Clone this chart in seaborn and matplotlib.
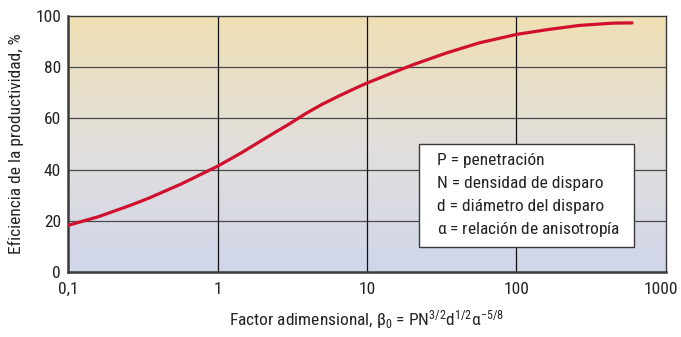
import matplotlib
matplotlib.use('Agg')
import matplotlib.pyplot as plt
import matplotlib.transforms as mtransforms
from matplotlib.patches import Rectangle
from matplotlib.colors import LinearSegmentedColormap
import seaborn as sns
import pandas as pd
import numpy as np

# datos
factor = [0.1, 0.16, 0.266, 0.346, 0.573, 1, 1.44, 2.42, 2.98, 3.87, 5.01, 6.52, 8.45, 10,
          14.1, 20.2, 33.8, 56.4, 100, 158, 263, 442, 593]
eficiencia = [18.2, 21.6, 26.2, 28.8, 34.4, 41.3, 46.5, 54.5, 57.6, 61.8, 65.5, 68.8, 71.9, 73.8,
              77.3, 80.9, 85.5, 89.5, 92.8, 94.6, 96.3, 97.2, 97.3]
yticks = [0, 20, 40, 60, 80, 100]
xticks = [0.1, 1, 10, 100, 1000]
xticklabels = ['0,1', '1', '10', '100', '1000']
leyenda = ['P = penetración', 'N = densidad de disparo',
           'd = diámetro del disparo', r'$\alpha$ = relación de anisotropía']

sns.set_theme(style='white')
fnt = ['Roboto Condensed', 'Archivo Narrow', 'DejaVu Sans']
plt.rcParams['font.family'] = fnt
plt.rcParams.update({'mathtext.fontset': 'custom',
                     'mathtext.rm': 'Roboto Condensed',
                     'mathtext.it': 'Roboto Condensed',
                     'mathtext.default': 'rm'})

df = pd.DataFrame({'factor': factor, 'eficiencia': eficiencia})

fig = plt.figure(figsize=(6.81, 3.37), dpi=100)
ax = fig.add_axes([0.0999, 0.193, 0.878, 0.7596])

# fondo degradado
cmap = LinearSegmentedColormap.from_list('fondo', ['#d0d6ea', '#e2dfdc', '#efdfb4'])
grad = np.linspace(0, 1, 256).reshape(-1, 1)
ax.imshow(grad, cmap=cmap, aspect='auto', origin='lower', extent=[0, 1, 0, 1],
          transform=ax.transAxes, zorder=0)

sns.lineplot(data=df, x='factor', y='eficiencia', color='#d0102c', linewidth=2.3, ax=ax, zorder=3)
ax.set_xscale('log')
ax.set_xlim(0.1, 1000)
ax.set_ylim(0, 100)

for v in yticks[1:-1]:
    ax.axhline(v, color='#4a4a4a', linewidth=0.9, zorder=1)
for v in xticks[1:-1]:
    ax.axvline(v, color='#111111', linewidth=0.9, zorder=1)

ax.set_xticks(xticks)
ax.set_xticklabels(xticklabels)
ax.xaxis.set_minor_locator(plt.NullLocator())
ax.set_yticks(yticks)
ax.tick_params(axis='both', length=0, labelsize=12.5, colors='#222222')
ax.tick_params(axis='x', pad=7)
ax.tick_params(axis='y', pad=5)
# el "1000" queda pegado al borde, se corre un poco a la izquierda
last = ax.get_xticklabels()[-1]
last.set_transform(last.get_transform() + mtransforms.ScaledTranslation(-5 / 100, 0, fig.dpi_scale_trans))

for s in ['left', 'bottom']:
    ax.spines[s].set_color('#3a3a3a')
    ax.spines[s].set_linewidth(1.8)
for s in ['top', 'right']:
    ax.spines[s].set_color('#3a3a3a')
    ax.spines[s].set_linewidth(1.0)

ax.set_xlabel(r'Factor adimensional, $\beta_0$ = PN$^{3/2}$d$^{1/2}$$\alpha^{-5/8}$',
              fontsize=12.5, color='#222222', labelpad=8)
ax.set_ylabel('Eficiencia de la productividad, %', fontsize=12.5, color='#222222', labelpad=8)

# caja de leyenda
ax.add_patch(Rectangle((0.587, 0.098), 0.359, 0.402, transform=ax.transAxes,
                       facecolor='white', edgecolor='#3a3a3a', linewidth=1.0, zorder=4))
for i, txt in enumerate(leyenda):
    ax.text(0.617, 0.434 - i * 0.09, txt, transform=ax.transAxes, fontsize=12.5,
            va='center', ha='left', color='#222222', zorder=5)

plt.savefig('out.png', dpi=100)
plt.close()
